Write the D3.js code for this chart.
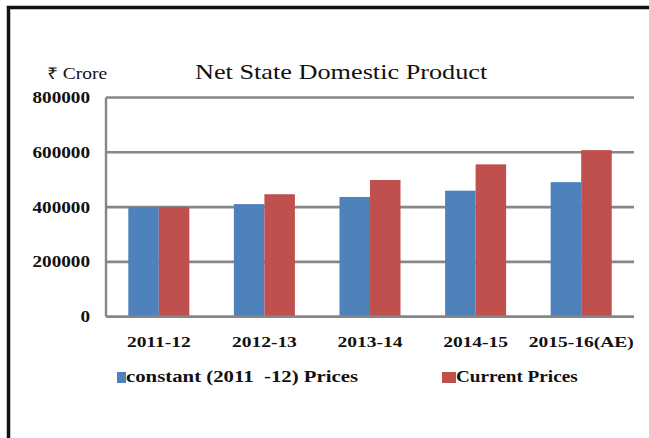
<!DOCTYPE html>
<html>
<head>
<meta charset="utf-8">
<script src="https://cdn.jsdelivr.net/npm/d3@7"></script>
<style>
  html, body { margin: 0; padding: 0; background: #fff; }
  svg { display: block; }
  text { font-family: "Liberation Serif", "Times New Roman", serif; fill: #111; }
</style>
</head>
<body>
<svg id="chart" width="649" height="438"></svg>
<script>
// Net State Domestic Product, ₹ crore
const years = ["2011-12", "2012-13", "2013-14", "2014-15", "2015-16(AE)"];
const constantPrices = [400000, 411000, 437000, 460000, 491000];
const currentPrices = [400000, 447000, 499000, 556000, 608000];
const seriesNames = ["constant (2011  -12) Prices", "Current Prices"];
const seriesColors = ["#4F81BD", "#C0504D"];
const yTicks = [0, 200000, 400000, 600000, 800000];

const svg = d3.select("#chart");
const margin = { left: 106, right: 15, top: 97.5, bottom: 121.3 };
const W = 649, H = 438;
const plotR = W - margin.right, plotB = H - margin.bottom;

// outer frame: heavy rules on the top and left edge
svg.append("path")
  .attr("d", `M8.5,438 V7.5 H649`)
  .attr("fill", "none")
  .attr("stroke", "#111")
  .attr("stroke-width", 3.5);

const x0 = d3.scaleBand().domain(years).range([margin.left, plotR])
  .paddingInner(0.422).paddingOuter(0.211);
const x1 = d3.scaleBand().domain([0, 1]).range([0, x0.bandwidth()]);
const y = d3.scaleLinear().domain([0, 800000]).range([plotB, margin.top]);

// gridlines
svg.append("g").selectAll("line").data(yTicks).join("line")
  .attr("x1", margin.left).attr("x2", plotR)
  .attr("y1", d => y(d)).attr("y2", d => y(d))
  .attr("stroke", "#878787").attr("stroke-width", 2.6);

// left axis rule
svg.append("line")
  .attr("x1", margin.left).attr("x2", margin.left)
  .attr("y1", y(800000)).attr("y2", y(0))
  .attr("stroke", "#878787").attr("stroke-width", 2.4);

// bars
const rows = years.map((yr, i) => ({ yr, vals: [constantPrices[i], currentPrices[i]] }));
svg.append("g").selectAll("g").data(rows).join("g")
  .attr("transform", d => `translate(${x0(d.yr)},0)`)
  .selectAll("rect").data(d => d.vals.map((v, k) => ({ v, k }))).join("rect")
  .attr("x", d => x1(d.k))
  .attr("width", x1.bandwidth())
  .attr("y", d => y(d.v))
  .attr("height", d => y(0) - y(d.v))
  .attr("fill", d => seriesColors[d.k]);

// redraw the baseline over the bars
svg.append("line")
  .attr("x1", margin.left).attr("x2", plotR)
  .attr("y1", y(0)).attr("y2", y(0))
  .attr("stroke", "#878787").attr("stroke-width", 2.6);

// helper: text with a horizontal stretch
function stretched(g, xPos, yPos, str, opts) {
  const sx = opts.sx || 1;
  return g.append("text")
    .attr("transform", `translate(${xPos},${yPos}) scale(${sx},1)`)
    .attr("font-size", opts.size)
    .attr("font-weight", opts.weight || "normal")
    .attr("text-anchor", opts.anchor || "start")
    .style("white-space", "pre")
    .text(str);
}

// y tick labels
yTicks.forEach(v => stretched(svg, 90, y(v) + 5.5, d3.format("d")(v),
  { size: 16, weight: "bold", sx: 1.2, anchor: "end" }));

// x tick labels
years.forEach(yr => stretched(svg, x0(yr) + x0.bandwidth() / 2, 347, yr,
  { size: 15, weight: "bold", sx: 1.3, anchor: "middle" }));

// unit and title
stretched(svg, 47, 79, "₹ Crore", { size: 16, sx: 1.22 });
stretched(svg, 195, 79, "Net State Domestic Product", { size: 21, sx: 1.25 });

// legend
const legendX = [117, 442];
const legendW = [9, 14];
const legendSx = [1.3, 1.2];
seriesNames.forEach((name, k) => {
  svg.append("rect")
    .attr("x", legendX[k]).attr("y", 372)
    .attr("width", legendW[k]).attr("height", 11)
    .attr("fill", seriesColors[k]);
  stretched(svg, legendX[k] + legendW[k], 382, name, { size: 16, weight: "bold", sx: legendSx[k] });
});
</script>
</body>
</html>
